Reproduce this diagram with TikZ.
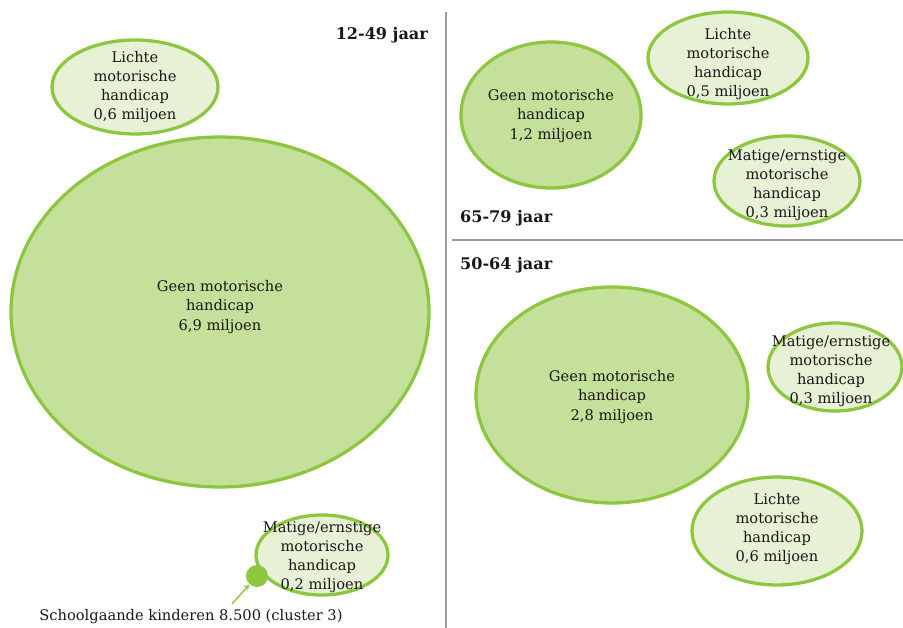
\documentclass[tikz,border=0pt]{standalone}
\usepackage{fontspec}
\setmainfont{DejaVu Serif}
\usetikzlibrary{shapes.geometric}

\definecolor{rand}{HTML}{8DC63F}
\definecolor{donker}{HTML}{C5E09B}
\definecolor{licht}{HTML}{E6F1D5}
\definecolor{lijn}{HTML}{9A9A9A}
\definecolor{tekst}{HTML}{1A1718}

\begin{document}
\begin{tikzpicture}[x=0.03cm, y=-0.03cm,
    bel/.style={ellipse, draw=rand, line width=2.8pt, inner sep=0pt},
    geen/.style={bel, fill=donker},
    rest/.style={bel, fill=licht},
    txt/.style={align=center, text=tekst, font=\fontsize{12.5}{16.3}\selectfont},
    kop/.style={text=tekst, font=\fontsize{13.7}{15}\selectfont\bfseries, inner sep=0pt}]
    \useasboundingbox (0,0) rectangle (903,628);

    % scheidingslijnen
    \draw[lijn, line width=1pt] (446,12) -- (446,628);
    \draw[lijn, line width=1pt] (452,240) -- (903,240);

    % 12-49 jaar
    \node[kop, anchor=east] (k1) at (428,35) {12-49 jaar};
    \node[rest, minimum width=4.98cm, minimum height=2.82cm] (l1) at (135,87) {};
    \node[txt] (l1t) at (135,87) {Lichte\\motorische\\handicap\\0,6 miljoen};
    \node[geen, minimum width=12.54cm, minimum height=10.5cm] (g1) at (220,312) {};
    \node[txt] (g1t) at (220,307) {Geen motorische\\handicap\\6,9 miljoen};
    \node[rest, minimum width=3.96cm, minimum height=2.4cm] (m1) at (322,555) {};
    \node[txt] (m1t) at (322,557) {Matige/ernstige\\motorische\\handicap\\0,2 miljoen};
    \node[circle, fill=rand, minimum size=0.66cm, inner sep=0pt] (kind) at (257,576) {};
    \node[txt] (kindt) at (191,617) {Schoolgaande kinderen 8.500 (cluster 3)};
    \coordinate (pijl) at (232,604);
    \draw[->, >=stealth, rand, line width=1.2pt] (pijl) -- (kind);

    % 65-79 jaar
    \node[kop, anchor=west] (k2) at (460,218) {65-79 jaar};
    \node[geen, minimum width=5.4cm, minimum height=4.38cm] (g2) at (551,115) {};
    \node[txt] (g2t) at (551,116) {Geen motorische\\handicap\\1,2 miljoen};
    \node[rest, minimum width=4.8cm, minimum height=2.76cm] (l2) at (728,58) {};
    \node[txt] (l2t) at (728,64) {Lichte\\motorische\\handicap\\0,5 miljoen};
    \node[rest, minimum width=4.38cm, minimum height=2.7cm] (m2) at (787,181) {};
    \node[txt] (m2t) at (787,185) {Matige/ernstige\\motorische\\handicap\\0,3 miljoen};

    % 50-64 jaar
    \node[kop, anchor=west] (k3) at (460,265) {50-64 jaar};
    \node[geen, minimum width=8.16cm, minimum height=6.48cm] (g3) at (612,395) {};
    \node[txt] (g3t) at (612,397) {Geen motorische\\handicap\\2,8 miljoen};
    \node[rest, minimum width=4.02cm, minimum height=2.64cm] (m3) at (835,367) {};
    \node[txt] (m3t) at (831,371) {Matige/ernstige\\motorische\\handicap\\0,3 miljoen};
    \node[rest, minimum width=5.1cm, minimum height=3.24cm] (l3) at (777,531) {};
    \node[txt] (l3t) at (777,529) {Lichte\\motorische\\handicap\\0,6 miljoen};
\end{tikzpicture}
\end{document}
